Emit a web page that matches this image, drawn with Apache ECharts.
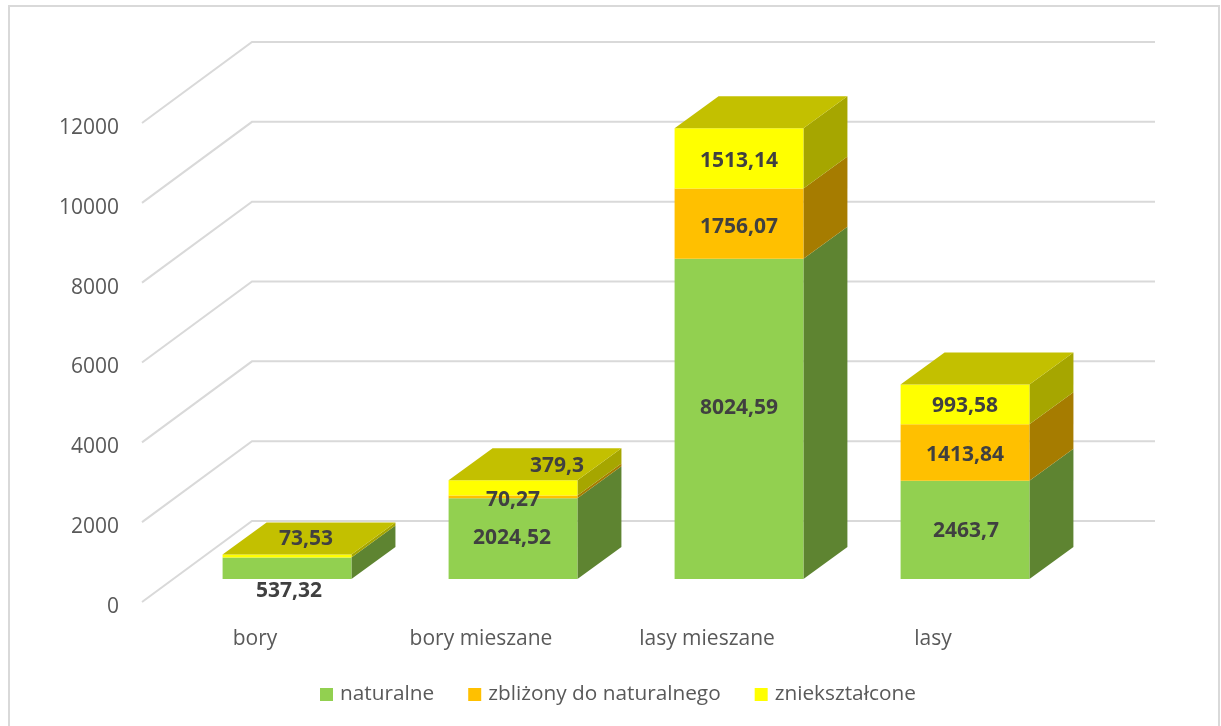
<!DOCTYPE html>
<html><head><meta charset="utf-8">
<style>html,body{margin:0;padding:0;background:#fff}#c{width:1221px;height:726px}</style>
<script src="https://cdn.jsdelivr.net/npm/echarts@6/dist/echarts.min.js"></script>
</head><body><div id="c"></div>
<script>
const categories = ['bory', 'bory mieszane', 'lasy mieszane', 'lasy'];
const naturalne = [537.32, 2024.52, 8024.59, 2463.7];
const zblizony = [null, 70.27, 1756.07, 1413.84];
const znieksztalcone = [73.53, 379.3, 1513.14, 993.58];
const yTicks = [0, 2000, 4000, 6000, 8000, 10000, 12000];

const FONT = '"Open Sans", sans-serif';
const stacks = [naturalne, zblizony, znieksztalcone];
const names = ['naturalne', 'zbliżony do naturalnego', 'zniekształcone'];
const fronts = ['#92D050', '#FFC000', '#FFFF00'];
const sides = ['#5E8431', '#A67C00', '#A6A600'];
const topColor = '#C3C000';
// view geometry of the pseudo-3D box, in pixels
const wall = {dx: 110, dy: -81, right: 1155};
const bar = {shiftX: 32, shiftY: -23, dx: 44, dy: -32, widthRatio: 0.57};
// hand placement of labels that the reference moves off centre: "series,category": [dx, dy]
const labelShift = {'0,0': [2, 23], '2,0': [19, -17], '1,1': [0, 3], '2,1': [44, -22], '0,1': [-1, -1], '0,2': [0, -11], '1,2': [0, 3], '2,2': [0, 3], '0,3': [1, 1], '1,3': [0, 3], '2,3': [0, 2]};

function renderWall(params, api) {
  const y = api.coord([0, api.value(1)])[1];
  const x = params.coordSys.x;
  return {type: 'polyline', silent: true,
    shape: {points: [[x, y], [x + wall.dx, y + wall.dy], [wall.right, y + wall.dy]]},
    style: {stroke: '#D9D9D9', lineWidth: 2, fill: null}};
}
function makeRender(s) {
  return function (params, api) {
    const i = params.dataIndex, v = stacks[s][i];
    if (!v) return null;
    let base = 0;
    for (let k = 0; k < s; k++) base += stacks[k][i] || 0;
    const band = api.size([1, 0])[0];
    const w = band * bar.widthRatio;
    const cx = api.coord([i, 0])[0] + bar.shiftX;
    const y0 = api.coord([i, base])[1] + bar.shiftY;
    const y1 = api.coord([i, base + v])[1] + bar.shiftY;
    const l = cx - w / 2, r = cx + w / 2;
    const poly = (pts, fill) => ({type: 'polygon', silent: true, shape: {points: pts}, style: {fill: fill}});
    const children = [
      poly([[r, y0], [r + bar.dx, y0 + bar.dy], [r + bar.dx, y1 + bar.dy], [r, y1]], sides[s]),
      poly([[l, y0], [r, y0], [r, y1], [l, y1]], fronts[s])
    ];
    if (s === 2) children.push(poly([[l, y1], [r, y1], [r + bar.dx, y1 + bar.dy], [l + bar.dx, y1 + bar.dy]], topColor));
    const sh = labelShift[s + ',' + i] || [0, 0];
    children.push({type: 'text', z2: 100, silent: true, style: {
      text: String(v).replace('.', ','), x: cx + sh[0], y: (y0 + y1) / 2 + sh[1],
      textAlign: 'center', textVerticalAlign: 'middle',
      fill: '#404040', font: 'bold 21px ' + FONT}});
    return {type: 'group', children: children};
  };
}
const series = [{type: 'custom', name: 'wall', z: 1, data: yTicks.map(t => [0, t]), encode: {x: 0, y: 1}, renderItem: renderWall, silent: true}];
stacks.forEach((vals, s) => series.push({
  type: 'custom', name: names[s], z: 2, itemStyle: {color: fronts[s]},
  data: vals.map((v, i) => [i, v || 0]), encode: {x: 0, y: 1},
  renderItem: makeRender(s), silent: true
}));
const chart = echarts.init(document.getElementById('c'), null, {renderer: 'canvas'});
chart.setOption({
  animation: false,
  backgroundColor: '#fff',
  graphic: [{type: 'rect', silent: true, z: -1, shape: {x: 9, y: 6, width: 1210, height: 730},
    style: {fill: 'none', stroke: '#D9D9D9', lineWidth: 2}}],
  grid: {left: 142, right: 175, top: 123, bottom: 124, containLabel: false},
  xAxis: {type: 'category', data: categories, axisLine: {show: false}, axisTick: {show: false}, splitLine: {show: false},
    axisLabel: {color: '#595959', fontFamily: FONT, fontSize: 21, margin: 27, interval: 0}},
  yAxis: {type: 'value', min: 0, max: 12000, interval: 2000, axisLine: {show: false}, axisTick: {show: false}, splitLine: {show: false},
    axisLabel: {color: '#595959', fontFamily: FONT, fontSize: 21, margin: 23, verticalAlign: 'top', lineHeight: 10, formatter: v => String(v)}},
  legend: {data: names, left: 315, top: 679, icon: 'rect', itemWidth: 13, itemHeight: 13, itemGap: 34, selectedMode: false,
    textStyle: {color: '#595959', fontFamily: FONT, fontSize: 20.8, padding: [0, 0, 0, 2]}},
  series: series
});
</script></body></html>
